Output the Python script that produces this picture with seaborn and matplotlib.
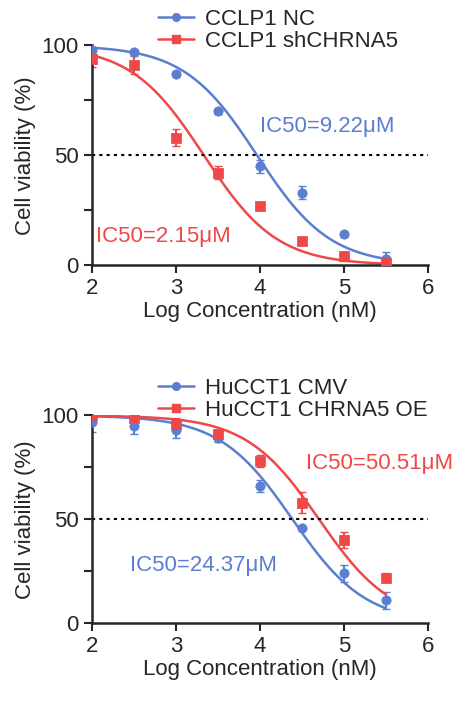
import numpy as np
import pandas as pd
import seaborn as sns
import matplotlib
matplotlib.use("Agg")
import matplotlib.pyplot as plt

sns.set_style("ticks")
plt.rcParams['font.family'] = ['Liberation Sans', 'DejaVu Sans']

log_conc = [2, 2.5, 3, 3.5, 4, 4.5, 5, 5.5]
# top panel
ccl_nc = [98, 97, 87, 70, 45, 33, 14, 3]
ccl_nc_err = [1, 1, 1, 1, 3, 3, 1, 3]
ccl_sh = [94, 91, 58, 42, 27, 11, 4, 1]
ccl_sh_err = [4, 4, 4, 3, 1, 1, 2, 1]
# bottom panel
hu_cmv = [97, 95, 93, 89, 66, 46, 24, 11]
hu_cmv_err = [5, 4, 4, 2, 3, 1, 4, 4]
hu_oe = [100, 99, 96, 91, 78, 58, 40, 22]
hu_oe_err = [1, 1, 3, 1, 3, 5, 4, 2]

labels_top = ["CCLP1 NC", "CCLP1 shCHRNA5"]
labels_bot = ["HuCCT1 CMV", "HuCCT1 CHRNA5 OE"]
ic50_text_top = ["IC50=9.22μM", "IC50=2.15μM"]
ic50_text_bot = ["IC50=24.37μM", "IC50=50.51μM"]
log_ic50_top = [3.965, 3.332]
log_ic50_bot = [4.387, 4.703]

blue = "#5b7fd0"
red = "#ee4848"
FS = 16

fig = plt.figure(figsize=(4.74, 7.09), dpi=100)
ax1 = fig.add_axes([0.194, 0.626, 0.709, 0.310])
ax2 = fig.add_axes([0.194, 0.121, 0.709, 0.293])

def panel(ax, sets, logic50s, labels, texts, text_pos):
    xs = np.linspace(2, 5.5, 200)
    for (vals, errs, color, marker), lic, lab in zip(sets, logic50s, labels):
        df = pd.DataFrame({"x": log_conc, "y": vals})
        ax.errorbar(log_conc, vals, yerr=errs, fmt="none", ecolor=color, elinewidth=1.5, capsize=3)
        fit = 100 / (1 + 10 ** (xs - lic))
        sns.lineplot(x=xs, y=fit, ax=ax, color=color, lw=1.8)
        sns.scatterplot(data=df, x="x", y="y", ax=ax, color=color, marker=marker, s=45, edgecolor=color, zorder=5)
        ax.plot([], [], color=color, marker=marker, ms=5.5, lw=1.8, label=lab)
    ax.axhline(50, color="black", ls=(0, (1.5, 2)), lw=1.5)
    for t, (x, y, c) in zip(texts, text_pos):
        ax.text(x, y, t, color=c, fontsize=FS, ha="left", va="center")
    ax.set_xlim(2, 6)
    ax.set_ylim(0, 100)
    ax.set_xticks([2, 3, 4, 5, 6])
    ax.set_yticks([0, 50, 100])
    ax.set_yticks([25, 75], minor=True)
    ax.tick_params(labelsize=FS, width=1.5, length=6, which="both")
    for s in ["left", "bottom"]:
        ax.spines[s].set_linewidth(1.8)
    sns.despine(ax=ax)
    ax.set_xlabel("Log Concentration (nM)", fontsize=FS, labelpad=1)
    ax.set_ylabel("Cell viability (%)", fontsize=FS)
    ax.legend(loc="lower left", bbox_to_anchor=(0.17, 0.93), frameon=False, fontsize=FS,
              handlelength=1.6, handletextpad=0.5, labelspacing=0.05, borderaxespad=0)

panel(ax1, [(ccl_nc, ccl_nc_err, blue, "o"), (ccl_sh, ccl_sh_err, red, "s")],
      log_ic50_top, labels_top, ic50_text_top,
      [(4.0, 63, blue), (2.05, 13, red)])
panel(ax2, [(hu_cmv, hu_cmv_err, blue, "o"), (hu_oe, hu_oe_err, red, "s")],
      log_ic50_bot, labels_bot, ic50_text_bot,
      [(2.45, 28, blue), (4.55, 77, red)])

fig.savefig("out.png", dpi=100)
